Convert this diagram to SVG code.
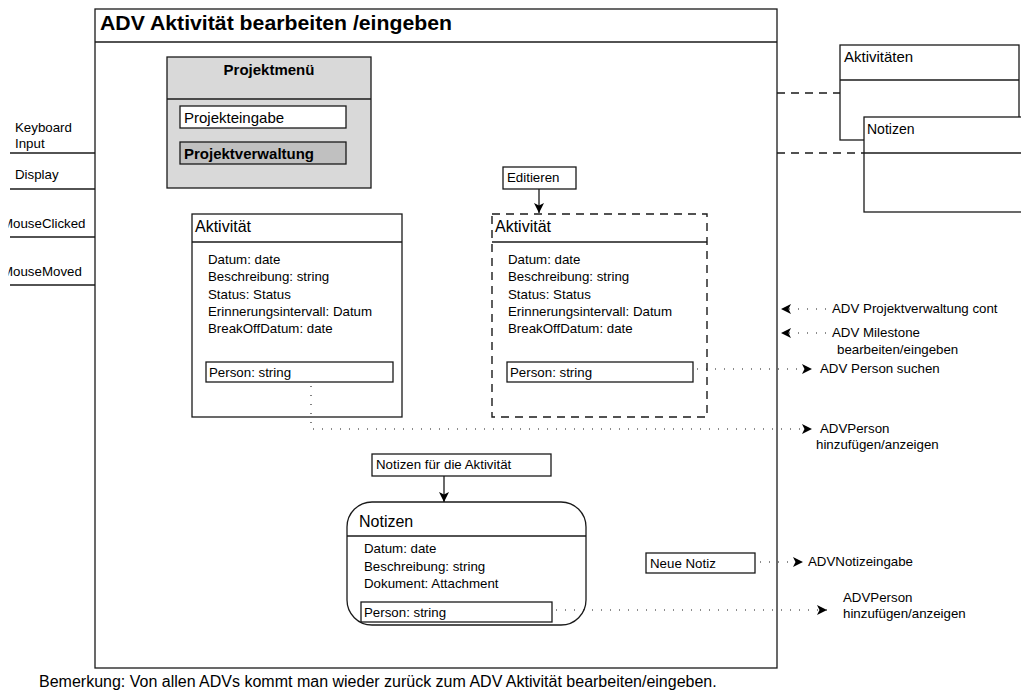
<svg xmlns="http://www.w3.org/2000/svg" width="1021" height="692" viewBox="0 0 1021 692">
  <style>
    text { font-family: "Liberation Sans", Arial, sans-serif; fill: #000; }
    .box { fill: #fff; stroke: #1a1a1a; stroke-width: 1.3; }
    .ln { fill: none; stroke: #1a1a1a; stroke-width: 1.3; }
    .dash { fill: none; stroke: #1a1a1a; stroke-width: 1.4; stroke-dasharray: 8 6; }
    .dot { fill: none; stroke: #1a1a1a; stroke-width: 1.1; stroke-dasharray: 1 8; }
    .t13 { font-size: 13.3px; }
    .t15 { font-size: 15px; }
    .t16 { font-size: 16px; }
    .b { font-weight: bold; }
  </style>
  <defs>
    <marker id="arrow" viewBox="0 0 10 10" refX="10" refY="5" markerWidth="11" markerHeight="10" markerUnits="userSpaceOnUse" orient="auto">
      <path d="M0,0 L10,5 L0,10 L2.5,5 z" fill="#000"/>
    </marker>
    <clipPath id="leftClip">
      <rect x="8.5" y="0" width="90" height="692"/>
    </clipPath>
  </defs>

  <!-- main view frame -->
  <g id="frame">
    <rect class="box" x="95" y="9" width="682" height="659"/>
    <line class="ln" x1="95" y1="42" x2="777" y2="42"/>
    <text x="100" y="30" font-size="19.5" class="b" textLength="352" lengthAdjust="spacingAndGlyphs">ADV Aktivität bearbeiten /eingeben</text>
  </g>

  <!-- input/output events on the left edge -->
  <g id="events">
    <line class="ln" x1="10" y1="153" x2="95" y2="153"/>
    <line class="ln" x1="10" y1="189" x2="95" y2="189"/>
    <line class="ln" x1="10" y1="237" x2="95" y2="237"/>
    <line class="ln" x1="10" y1="285" x2="95" y2="285"/>
    <text class="t13" x="15" y="132">Keyboard</text>
    <text class="t13" x="15" y="148">Input</text>
    <text class="t13" x="15" y="179">Display</text>
    <g clip-path="url(#leftClip)">
      <text class="t13" x="2" y="228">MouseClicked</text>
      <text class="t13" x="2" y="276">MouseMoved</text>
    </g>
  </g>

  <!-- project menu -->
  <g id="projektmenue">
    <rect x="167" y="57" width="204" height="131" fill="#d9d9d9" stroke="#1a1a1a" stroke-width="1.3"/>
    <line class="ln" x1="167" y1="99" x2="371" y2="99"/>
    <text class="t15 b" x="269" y="75" text-anchor="middle">Projektmenü</text>
    <rect class="box" x="180" y="106" width="166" height="22"/>
    <text class="t15" x="184" y="123">Projekteingabe</text>
    <rect x="180" y="142" width="166" height="22" fill="#c0c0c0" stroke="#1a1a1a" stroke-width="1.3"/>
    <text class="t15 b" x="184" y="159">Projektverwaltung</text>
  </g>

  <!-- activity (display) -->
  <g id="aktivitaet">
    <rect class="box" x="192" y="214" width="210" height="203"/>
    <line class="ln" x1="192" y1="242" x2="402" y2="242"/>
    <text class="t16" x="195" y="232">Aktivität</text>
    <text class="t13" x="208" y="264">Datum: date</text>
    <text class="t13" x="208" y="281">Beschreibung: string</text>
    <text class="t13" x="208" y="299">Status: Status</text>
    <text class="t13" x="208" y="316">Erinnerungsintervall: Datum</text>
    <text class="t13" x="208" y="333">BreakOffDatum: date</text>
    <rect class="box" x="206" y="362" width="187" height="20"/>
    <text class="t13" x="209" y="377">Person: string</text>
  </g>

  <!-- edit button -->
  <g id="editieren">
    <rect class="box" x="503" y="167" width="73" height="22"/>
    <text class="t13" x="507" y="182">Editieren</text>
  </g>

  <!-- activity (edit mode) -->
  <g id="aktivitaet-edit">
    <rect class="dash" x="492" y="214" width="215" height="203" fill="#fff" stroke-dasharray="7 6"/>
    <line class="ln" x1="492" y1="242" x2="707" y2="242"/>
    <text class="t16" x="495" y="232">Aktivität</text>
    <text class="t13" x="508" y="264">Datum: date</text>
    <text class="t13" x="508" y="281">Beschreibung: string</text>
    <text class="t13" x="508" y="299">Status: Status</text>
    <text class="t13" x="508" y="316">Erinnerungsintervall: Datum</text>
    <text class="t13" x="508" y="333">BreakOffDatum: date</text>
    <rect class="box" x="507" y="362" width="186" height="20"/>
    <text class="t13" x="510" y="377">Person: string</text>
  </g>

  <!-- notes button -->
  <g id="notizen-button">
    <rect class="box" x="372" y="454" width="179" height="22"/>
    <text class="t13" x="376" y="469">Notizen für die Aktivität</text>
  </g>

  <!-- notes -->
  <g id="notizen">
    <rect class="box" x="347" y="502" width="239" height="123" rx="25" ry="25"/>
    <line class="ln" x1="347" y1="536" x2="586" y2="536"/>
    <text class="t16" x="359" y="527">Notizen</text>
    <text class="t13" x="364" y="553">Datum: date</text>
    <text class="t13" x="364" y="571">Beschreibung: string</text>
    <text class="t13" x="364" y="588">Dokument: Attachment</text>
    <rect class="box" x="361" y="602" width="191" height="20"/>
    <text class="t13" x="364" y="617">Person: string</text>
  </g>

  <!-- new note button -->
  <g id="neue-notiz">
    <rect class="box" x="646" y="553" width="109" height="20"/>
    <text class="t13" x="650" y="568">Neue Notiz</text>
  </g>

  <!-- data classes -->
  <g id="aktivitaeten-klasse">
    <rect class="box" x="840" y="45" width="179" height="95"/>
    <line class="ln" x1="840" y1="80" x2="1019" y2="80"/>
    <text class="t15" x="844" y="62">Aktivitäten</text>
  </g>
  <g id="notizen-klasse">
    <rect class="box" x="864" y="117" width="170" height="95"/>
    <line class="ln" x1="864" y1="153" x2="1034" y2="153"/>
    <text x="867" y="134" font-size="14">Notizen</text>
  </g>

  <!-- connectors -->
  <g id="connectors">
    <line class="dash" x1="777" y1="93" x2="840" y2="93"/>
    <line class="dash" x1="777" y1="153" x2="864" y2="153"/>
    <line class="ln" x1="539" y1="189" x2="539" y2="213" marker-end="url(#arrow)"/>
    <line class="ln" x1="444" y1="476" x2="444" y2="502" marker-end="url(#arrow)"/>
    <path class="dot" d="M311,386 V429 H812" marker-end="url(#arrow)"/>
    <path class="dot" d="M697,369 H812" marker-end="url(#arrow)"/>
    <path class="dot" d="M826,309 H781" marker-end="url(#arrow)"/>
    <path class="dot" d="M826,333 H781" marker-end="url(#arrow)"/>
    <path class="dot" d="M760,562 H803" marker-end="url(#arrow)"/>
    <path class="dot" d="M556,610 H827" marker-end="url(#arrow)"/>
  </g>

  <!-- connector labels -->
  <g id="labels">
    <text class="t13" x="832" y="313">ADV Projektverwaltung cont</text>
    <text class="t13" x="832" y="337">ADV Milestone</text>
    <text class="t13" x="837" y="354">bearbeiten/eingeben</text>
    <text class="t13" x="820" y="373">ADV Person suchen</text>
    <text class="t13" x="820" y="433">ADVPerson</text>
    <text class="t13" x="816" y="449">hinzufügen/anzeigen</text>
    <text class="t13" x="808" y="566">ADVNotizeingabe</text>
    <text class="t13" x="843" y="602">ADVPerson</text>
    <text class="t13" x="843" y="618">hinzufügen/anzeigen</text>
  </g>

  <text x="39" y="687" font-size="16">Bemerkung: Von allen ADVs kommt man wieder zurück zum ADV Aktivität bearbeiten/eingeben.</text>
</svg>
